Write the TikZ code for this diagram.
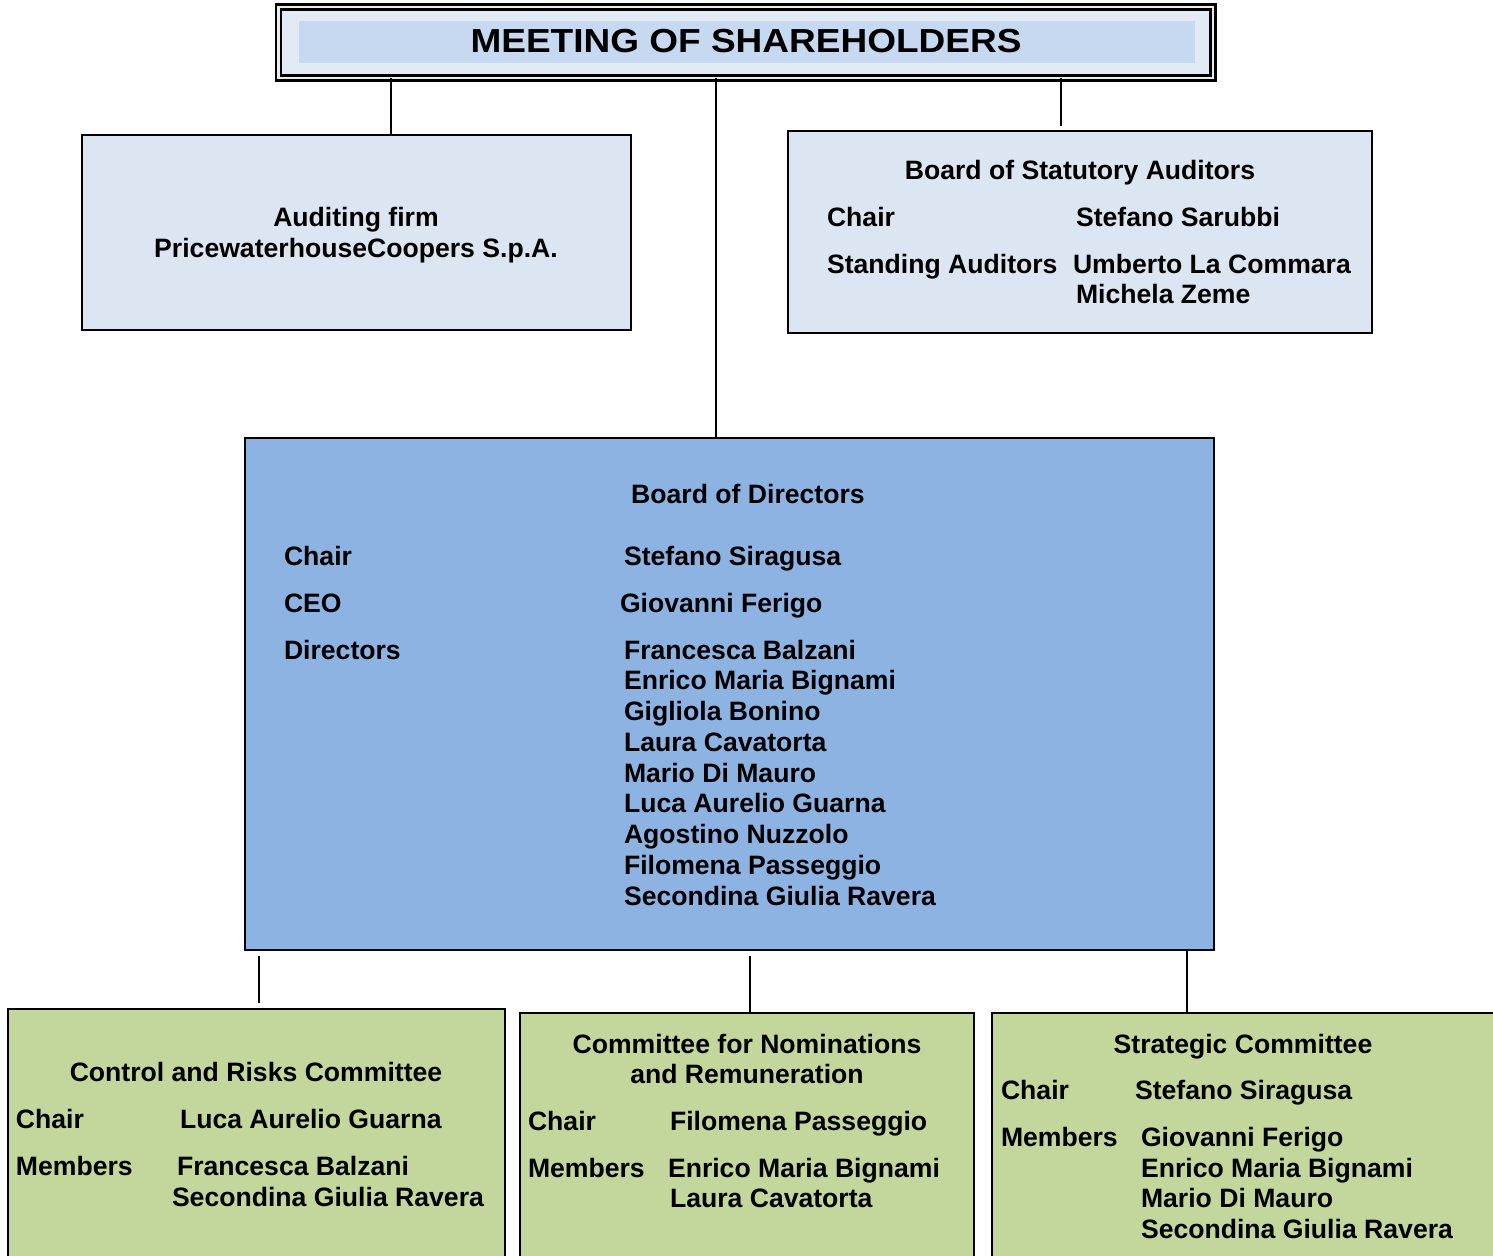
\documentclass[tikz,border=0pt]{standalone}
\usepackage{fontspec}
\setmainfont{Liberation Sans}
\definecolor{topfill}{HTML}{E2EAF6}
\definecolor{bandfill}{HTML}{C6D9F0}
\definecolor{lightbox}{HTML}{DCE6F2}
\definecolor{bodfill}{HTML}{8DB3E2}
\definecolor{greenfill}{HTML}{C3D69B}
\begin{document}
\begin{tikzpicture}[x=0.5pt,y=-0.5pt,
  boxbase/.style={rectangle, draw=black, line width=1pt, inner sep=0pt, outer sep=0pt},
  t/.style={inner sep=0pt, outer sep=0pt, anchor=base west, font=\bfseries\fontsize{13.3}{15}\selectfont},
  tc/.style={t, anchor=base},
  conn/.style={draw=black, line width=1pt}]
\useasboundingbox (0,0) rectangle (1493,1256);
\clip (0,0) rectangle (1493,1256);

% Meeting of shareholders
\node[rectangle, draw=black, fill=topfill, double=white!85!gray, double distance=1.4pt, line width=1.1pt,
      minimum width=467.25pt, minimum height=35.5pt, inner sep=0pt, outer sep=0pt] (msh) at (745.75,42.5) {};
\node[rectangle, fill=bandfill, minimum width=448pt, minimum height=21pt, inner sep=0pt] (band) at (747,42) {};
\node[inner sep=0pt, anchor=base, font=\bfseries\fontsize{18.5}{20}\selectfont] (mshtext) at (746,53) {\scalebox{1}[0.9]{MEETING OF SHAREHOLDERS}};

% Boxes
\node[boxbase, fill=lightbox, minimum width=274.5pt, minimum height=97.5pt] (aud) at (356.5,232.5) {};
\node[boxbase, fill=lightbox, minimum width=292pt, minimum height=101pt] (bsa) at (1080,232) {};
\node[boxbase, fill=bodfill, minimum width=484.5pt, minimum height=256pt] (bod) at (729.5,694) {};
\node[boxbase, fill=greenfill, minimum width=248.5pt, minimum height=150pt] (crc) at (256.5,1159) {};
\node[boxbase, fill=greenfill, minimum width=227pt, minimum height=150pt] (cnr) at (747,1163) {};
\node[boxbase, fill=greenfill, minimum width=279pt, minimum height=150pt] (stc) at (1271,1163) {};

% Connectors
\coordinate (c1) at (391,0);
\coordinate (c2) at (716,0);
\coordinate (c3) at (1061,0);
\coordinate (c3e) at (1061,126);
\coordinate (l1a) at (259,956);
\coordinate (l1b) at (259,1003);
\coordinate (l2a) at (750,956);
\coordinate (c5) at (750,0);
\coordinate (c6) at (1187,0);
\draw[conn] (msh.south -| c1) -- (aud.north -| c1);
\draw[conn] (msh.south -| c2) -- (bod.north -| c2);
\draw[conn] (msh.south -| c3) -- (c3e);
\draw[conn] (l1a) -- (l1b);
\draw[conn] (l2a) -- (cnr.north -| c5);
\draw[conn] (bod.south -| c6) -- (stc.north -| c6);

% Auditing firm
\node[tc] (aud1) at (356,227) {Auditing firm};
\node[tc] (aud2) at (356,258) {PricewaterhouseCoopers S.p.A.};

% Board of Statutory Auditors
\node[tc] (bsat) at (1080,180) {Board of Statutory Auditors};
\node[t] (bsa1) at (827,227) {Chair};
\node[t] (bsa2) at (1076,227) {Stefano Sarubbi};
\node[t] (bsa3) at (827,274) {Standing Auditors};
\node[t] (bsa4) at (1073,274) {Umberto La Commara};
\node[t] (bsa5) at (1076,304) {Michela Zeme};

% Board of Directors
\node[tc] (bodt) at (748,504) {Board of Directors};
\node[t] (bod1) at (284,566) {Chair};
\node[t] (bod2) at (624,566) {Stefano Siragusa};
\node[t] (bod3) at (284,612) {CEO};
\node[t] (bod4) at (620,612) {Giovanni Ferigo};
\node[t] (bod5) at (284,659) {Directors};
\node[t] (d1) at (624,659) {Francesca Balzani};
\node[t] (d2) at (624,689.75) {Enrico Maria Bignami};
\node[t] (d3) at (624,720.5) {Gigliola Bonino};
\node[t] (d4) at (624,751.25) {Laura Cavatorta};
\node[t] (d5) at (624,782) {Mario Di Mauro};
\node[t] (d6) at (624,812.75) {Luca Aurelio Guarna};
\node[t] (d7) at (624,843.5) {Agostino Nuzzolo};
\node[t] (d8) at (624,874.25) {Filomena Passeggio};
\node[t] (d9) at (624,905) {Secondina Giulia Ravera};

% Control and Risks Committee
\node[tc] (crct) at (256,1081) {Control and Risks Committee};
\node[t] (crc1) at (16,1128) {Chair};
\node[t] (crc2) at (180,1128) {Luca Aurelio Guarna};
\node[t] (crc3) at (16,1175) {Members};
\node[t] (crc4) at (177,1175) {Francesca Balzani};
\node[t] (crc5) at (172,1206) {Secondina Giulia Ravera};

% Committee for Nominations and Remuneration
\node[tc] (cnrt1) at (747,1053) {Committee for Nominations};
\node[tc] (cnrt2) at (747,1083) {and Remuneration};
\node[t] (cnr1) at (528,1130) {Chair};
\node[t] (cnr2) at (670,1130) {Filomena Passeggio};
\node[t] (cnr3) at (528,1177) {Members};
\node[t] (cnr4) at (668,1177) {Enrico Maria Bignami};
\node[t] (cnr5) at (670,1207) {Laura Cavatorta};

% Strategic Committee
\node[tc] (stct) at (1243,1053) {Strategic Committee};
\node[t] (stc1) at (1001,1099) {Chair};
\node[t] (stc2) at (1135,1099) {Stefano Siragusa};
\node[t] (stc3) at (1001,1146) {Members};
\node[t] (stc4) at (1141,1146) {Giovanni Ferigo};
\node[t] (stc5) at (1141,1177) {Enrico Maria Bignami};
\node[t] (stc6) at (1141,1207) {Mario Di Mauro};
\node[t] (stc7) at (1141,1238) {Secondina Giulia Ravera};
\end{tikzpicture}
\end{document}
